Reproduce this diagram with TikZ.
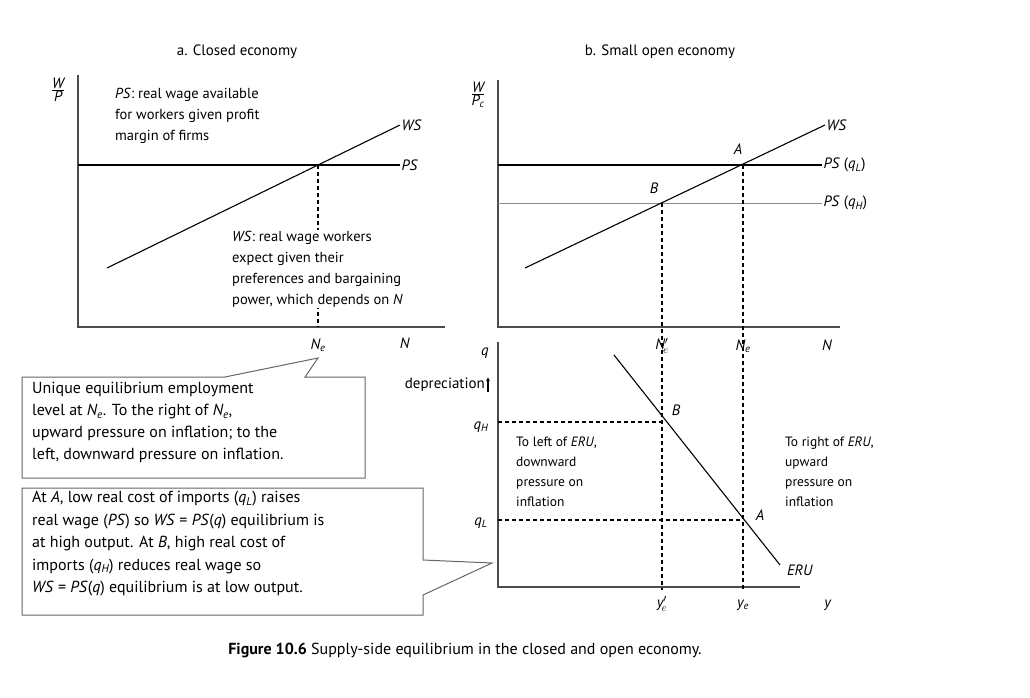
\documentclass[tikz,border=0pt]{standalone}
\usepackage{fontspec}
\setmainfont{PT Sans}
\usetikzlibrary{arrows.meta}
\begin{document}
\begin{tikzpicture}[x=1pt,y=-1pt,
  lab/.style={font=\fontsize{15}{17}\selectfont,inner sep=1pt},
  txt/.style={font=\fontsize{14.5}{21}\selectfont,align=left,inner sep=0pt,anchor=north west},
  ax/.style={draw=black!70,line width=1.3pt},
  ln/.style={line width=1.1pt},
  dsh/.style={line width=2pt,dash pattern=on 4pt off 3pt},
  call/.style={draw=black!60,line width=1pt}]
\useasboundingbox (0,0) rectangle (1030,698);
% titles
\node[lab] at (237,52) {a. Closed economy};
\node[lab] at (660,52) {b. Small open economy};
% left panel
\draw[ax] (78,75) -- (78,327) -- (445,327);
\node[lab] at (58,90) {$\frac{\textit{W}}{\textit{P}}$};
\coordinate (eL) at (318,165);
\draw[ln] (78,165) -- (400,165) node[lab,right] {\textit{PS}};
\draw[ln] (107,268) -- (400,125) node[lab,right] {\textit{WS}};
\draw[dsh] (eL) -- (318,327);
\node[txt] at (115,88) {\textit{PS}: real wage available\\for workers given profit\\margin of firms};
\node[txt,fill=white,inner sep=1pt] at (231,230) {\textit{WS}: real wage workers\\expect given their\\preferences and bargaining\\power, which depends on \textit{N}};
\node[lab] (NeL) at (318,345) {\textit{N\textsubscript{e}}};
\node[lab] at (405,343) {\textit{N}};
% right top panel
\draw[ax] (498,80) -- (498,327) -- (840,327);
\node[lab] at (478,95) {$\frac{\textit{W}}{\textit{P\textsubscript{c}}}$};
\coordinate (A) at (743,165);
\coordinate (B) at (662,203);
\draw[ln] (498,165) -- (822,165) node[lab,right] {\textit{PS} (\textit{q\textsubscript{L}})};
\draw[line width=1pt,black!45] (498,203) -- (822,203) node[lab,right,black] {\textit{PS} (\textit{q\textsubscript{H}})};
\draw[ln] (525,268) -- (825,125) node[lab,right] {\textit{WS}};
\node[lab] at (738,149) {\textit{A}};
\node[lab] at (654,188) {\textit{B}};
\node[lab] at (662,346) {\textit{N$'_{\!e}$}};
\node[lab] at (743,346) {\textit{N\textsubscript{e}}};
\node[lab] at (827,345) {\textit{N}};
% lower panel
\draw[ax] (498,342) -- (498,587) -- (800,587);
\node[lab] at (485,353) {\textit{q}};
\node[lab,anchor=east] (dep) at (486,385) {depreciation};
\draw[line width=1.6pt,-{Latex[length=4pt,width=4pt]}] (dep.south east) ++(2,-1) -- ++(0,-15);
\node[lab] at (481,427) {\textit{q\textsubscript{H}}};
\node[lab] at (481,523) {\textit{q\textsubscript{L}}};
\coordinate (Bl) at (662,422);
\coordinate (Al) at (743,520);
\draw[dsh] (498,422) -- (Bl);
\draw[dsh] (498,520) -- (Al);
\draw[dsh] (B) -- (662,590);
\draw[dsh] (A) -- (743,590);
\draw[ln] (614,355) -- (780,565);
\node[lab] at (800,570) {\textit{ERU}};
\node[lab] at (676,410) {\textit{B}};
\node[lab] at (760,515) {\textit{A}};
\node[lab] at (662,604) {\textit{y$'_{\!e}$}};
\node[lab] at (743,605) {\textit{y\textsubscript{e}}};
\node[lab] at (828,605) {\textit{y}};
\node[txt,font=\fontsize{13.5}{20}\selectfont] at (516,437) {To left of \textit{ERU},\\downward\\pressure on\\inflation};
\node[txt,font=\fontsize{13.5}{20}\selectfont] at (785,437) {To right of \textit{ERU},\\upward\\pressure on\\inflation};
% callouts
\draw[call] (22,377) -- (225,377) -- (318,358) -- (305,377) -- (365,377) -- (365,478) -- (22,478) -- cycle;
\node[txt,font=\fontsize{16}{22}\selectfont] at (32,382) {Unique equilibrium employment\\level at \textit{N\textsubscript{e}}. To the right of \textit{N\textsubscript{e}},\\upward pressure on inflation; to the\\left, downward pressure on inflation.};
\draw[call] (22,488) -- (423,488) -- (423,560) -- (492,563) -- (423,595) -- (423,615) -- (22,615) -- cycle;
\node[txt,font=\fontsize{16}{22.5}\selectfont] at (32,491) {At \textit{A}, low real cost of imports (\textit{q\textsubscript{L}}) raises\\real wage (\textit{PS}) so \textit{WS} = \textit{PS}(\textit{q}) equilibrium is\\at high output. At \textit{B}, high real cost of\\imports (\textit{q\textsubscript{H}}) reduces real wage so\\\textit{WS} = \textit{PS}(\textit{q}) equilibrium is at low output.};
% caption
\node[lab,font=\fontsize{16}{18}\selectfont] at (465,650) {\textbf{Figure 10.6} Supply-side equilibrium in the closed and open economy.};
\end{tikzpicture}
\end{document}
